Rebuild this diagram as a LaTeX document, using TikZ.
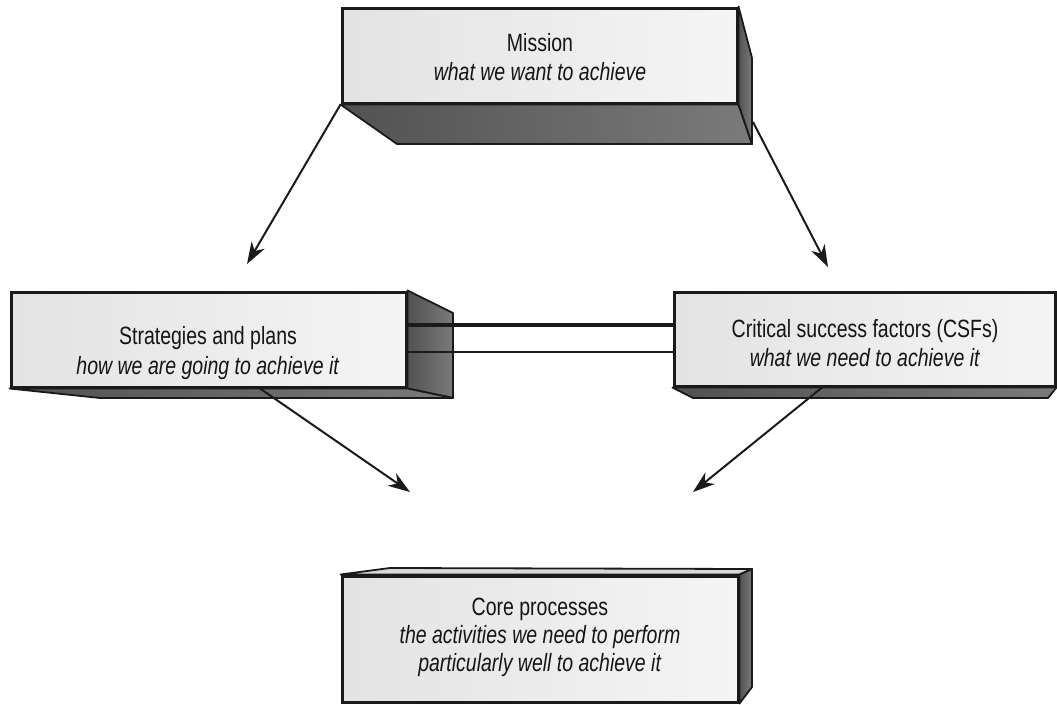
\documentclass[tikz,border=0pt]{standalone}
\usepackage{fontspec}
\setmainfont{Liberation Sans}[FakeStretch=0.78]
\usetikzlibrary{arrows.meta,backgrounds}
\definecolor{edge}{HTML}{1A1A1A}
\definecolor{txt}{HTML}{151515}
\begin{document}
\begin{tikzpicture}[x=1pt,y=-1pt,
  face/.style={draw=edge, line width=3pt, inner sep=0pt, left color=black!11, right color=black!4},
  darkface/.style={draw=edge, line width=1.8pt, line join=round, left color=black!68, right color=black!52},
  lightface/.style={draw=edge, line width=1.8pt, line join=round, fill=black!15},
  lbl/.style={align=center, text=txt, font=\fontsize{25}{29.5}\selectfont},
  arr/.style={-{Stealth[length=22pt,width=15pt,inset=7pt]}, line width=2pt, draw=edge},
  link/.style={draw=edge, line width=3.2pt}]
\useasboundingbox (0,0) rectangle (1057,704);

% front faces
\node[face, minimum width=395pt, minimum height=95pt] (mission) at (539.5,55.5) {};
\node[face, minimum width=395pt, minimum height=95pt] (strat) at (208.5,339.5) {};
\node[face, minimum width=381pt, minimum height=94pt] (csf) at (864.5,339) {};
\node[face, minimum width=396pt, minimum height=126pt] (core) at (540,639) {};

% 3-D faces
\begin{scope}[on background layer]
  \path[darkface] (mission.south west) -- (mission.south east) -- (752,144) -- (397,144) -- cycle;
  \path[darkface] (mission.north east) -- (752,58) -- (752,144) -- (mission.south east) -- cycle;
  \path[darkface] (strat.north east) -- (453,313) -- (453,398) -- (strat.south east) -- cycle;
  \path[darkface] (strat.south west) -- (strat.south east) -- (453,398) -- (100,398) -- cycle;
  \path[darkface] (csf.south west) -- (csf.south east) -- (1048,398) -- (693,398) -- cycle;
  \path[lightface] (core.north west) -- (390,568) -- (752,569) -- (core.north east) -- cycle;
  \path[darkface] (core.north east) -- (752,569) -- (752,687) -- (core.south east) -- cycle;
\end{scope}

% texts
\node[lbl] (missiontxt) at (540,57) {Mission\\\textit{what we want to achieve}};
\node[lbl] (strattxt) at (208,353) {Strategies and plans\\\textit{how we are going to achieve it}};
\node[lbl] (csftxt) at (865,343) {Critical success factors (CSFs)\\\textit{what we need to achieve it}};
\node[lbl, font=\fontsize{25}{28}\selectfont] (coretxt) at (540,637) {Core processes\\\textit{the activities we need to perform}\\\textit{particularly well to achieve it}};

% links between strategies and CSFs
\draw[link] ([yshift=14.5pt]strat.east) -- ([yshift=14pt]csf.west);
\draw[link, line width=2.7pt] ([yshift=-12.5pt]strat.east) -- ([yshift=-13pt]csf.west);

% arrows
\coordinate (a1e) at (247,264);
\coordinate (a2s) at (753,122);
\coordinate (a2e) at (828,267);
\coordinate (a3e) at (410,492);
\coordinate (a4e) at (693,492);
\draw[arr] (mission.south west) -- (a1e);
\draw[arr] (a2s) -- (a2e);
\draw[arr] ([xshift=51.5pt]strat.south) -- (a3e);
\draw[arr] ([xshift=-42.5pt]csf.south) -- (a4e);
\end{tikzpicture}
\end{document}
